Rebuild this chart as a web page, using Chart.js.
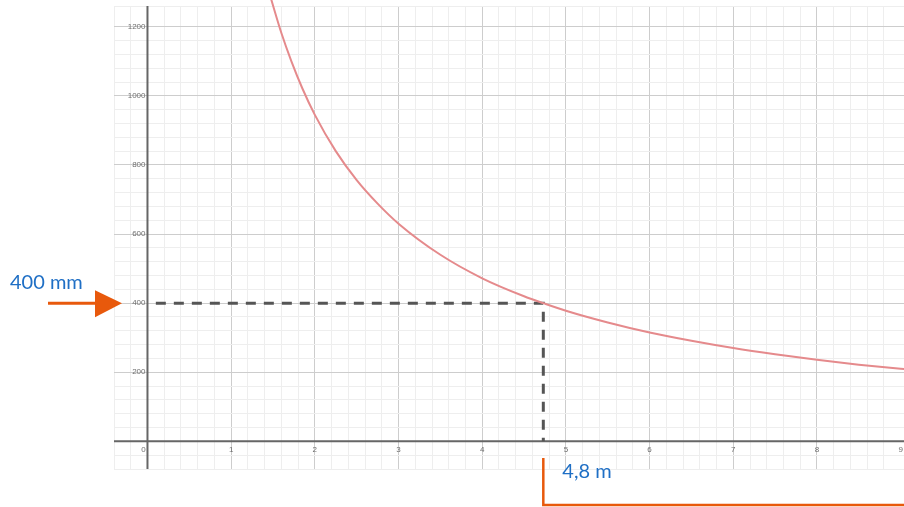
<!DOCTYPE html>
<html>
<head>
<meta charset="utf-8">
<script src="https://cdn.jsdelivr.net/npm/chart.js@4"></script>
<style>
  html, body { margin: 0; padding: 0; background: #fff; }
  #wrap { width: 904px; height: 507px; }
</style>
</head>
<body>
<div id="wrap"><canvas id="grafico"></canvas></div>
<script>
// curva (x em m, y em mm)
const curvaX = [1.47, 1.6, 1.72, 1.85, 2, 2.25, 2.5, 2.75, 3, 3.5, 4, 4.5, 4.73, 5, 5.5, 6, 6.5, 7, 7.5, 8, 8.5, 9, 9.1];
const curvaY = [1286, 1182, 1100, 1022, 945, 840, 756, 688, 630, 540, 472, 420, 400, 378, 344, 315, 291, 270, 252, 236, 222, 210, 208];

// linha tracejada de leitura
const guiaX = [0.1, 4.73, 4.73];
const guiaY = [400, 400, 0];

const ticksX = [0, 1, 2, 3, 4, 5, 6, 7, 8, 9];
const ticksY = [200, 400, 600, 800, 1000, 1200];

const rotuloY = '400 mm';
const rotuloX = '4,8 m';
const valorY = 400;
const valorX = 4.73;

const azul = '#1f6fc5';
const laranja = '#e8590c';

function pares(xs, ys) {
  return xs.map((x, i) => ({ x, y: ys[i] }));
}

function corGrade(ctx, passo) {
  const r = ctx.tick.value / passo;
  return Math.abs(r - Math.round(r)) < 1e-6 ? '#cdcdcd' : '#eeeeee';
}

const extras = {
  id: 'extras',
  beforeDatasetsDraw(chart) {
    // eixos por cima da grade
    const c = chart.ctx;
    const a = chart.chartArea;
    const x0 = chart.scales.x.getPixelForValue(0);
    const y0 = chart.scales.y.getPixelForValue(0);
    c.save();
    c.strokeStyle = '#666';
    c.lineWidth = 2;
    c.beginPath();
    c.moveTo(x0, a.top);
    c.lineTo(x0, a.bottom);
    c.moveTo(a.left, y0);
    c.lineTo(a.right, y0);
    c.stroke();
    c.restore();
  },
  afterDraw(chart) {
    const c = chart.ctx;
    const sx = chart.scales.x;
    const sy = chart.scales.y;
    const x0 = sx.getPixelForValue(0);
    const y0 = sy.getPixelForValue(0);

    c.save();
    // rótulos dos eixos
    c.font = '8px "Liberation Sans", Arial, sans-serif';
    c.fillStyle = '#6e6e6e';
    c.textAlign = 'right';
    c.textBaseline = 'middle';
    ticksY.forEach(v => c.fillText(String(v), x0 - 2, sy.getPixelForValue(v)));
    c.textAlign = 'center';
    c.textBaseline = 'top';
    ticksX.forEach(v => {
      const px = v === 0 ? x0 - 4 : sx.getPixelForValue(v);
      c.fillText(String(v), px, y0 + 4);
    });

    // seta laranja
    const ya = sy.getPixelForValue(valorY);
    c.strokeStyle = laranja;
    c.fillStyle = laranja;
    c.lineWidth = 3;
    c.beginPath();
    c.moveTo(48, ya);
    c.lineTo(98, ya);
    c.stroke();
    c.beginPath();
    c.moveTo(95, ya - 13);
    c.lineTo(122, ya);
    c.lineTo(95, ya + 14);
    c.closePath();
    c.fill();

    // colchete laranja
    const xb = sx.getPixelForValue(valorX);
    c.lineWidth = 2.5;
    c.beginPath();
    c.moveTo(xb, 458);
    c.lineTo(xb, 505);
    c.lineTo(904, 505);
    c.stroke();

    // textos azuis
    c.fillStyle = azul;
    c.font = '20px Lato, "Open Sans", sans-serif';
    c.textAlign = 'left';
    c.textBaseline = 'alphabetic';
    c.fillText(rotuloY, 10, 289);
    c.fillText(rotuloX, xb + 19, 478);
    c.restore();
  }
};

new Chart(document.getElementById('grafico'), {
  type: 'line',
  data: {
    datasets: [
      {
        data: pares(curvaX, curvaY),
        borderColor: '#e58a8c',
        borderWidth: 2,
        pointRadius: 0,
        cubicInterpolationMode: 'monotone',
        clip: { left: 0, top: 8, right: 0, bottom: 0 }
      },
      {
        data: pares(guiaX, guiaY),
        borderColor: '#555',
        borderWidth: 3,
        borderDash: [10, 8],
        pointRadius: 0,
        tension: 0
      }
    ]
  },
  options: {
    responsive: true,
    maintainAspectRatio: false,
    animation: false,
    layout: { padding: { left: 114, top: 6, right: 0, bottom: 38 } },
    plugins: {
      legend: { display: false },
      tooltip: { enabled: false }
    },
    scales: {
      x: {
        type: 'linear',
        min: -0.4,
        max: 9.04,
        border: { display: false },
        ticks: { display: false, stepSize: 0.2 },
        grid: {
          drawTicks: false,
          color: ctx => corGrade(ctx, 1)
        }
      },
      y: {
        type: 'linear',
        min: -80,
        max: 1260,
        border: { display: false },
        ticks: { display: false, stepSize: 40 },
        grid: {
          drawTicks: false,
          color: ctx => corGrade(ctx, 200)
        }
      }
    }
  },
  plugins: [extras]
});
</script>
</body>
</html>
